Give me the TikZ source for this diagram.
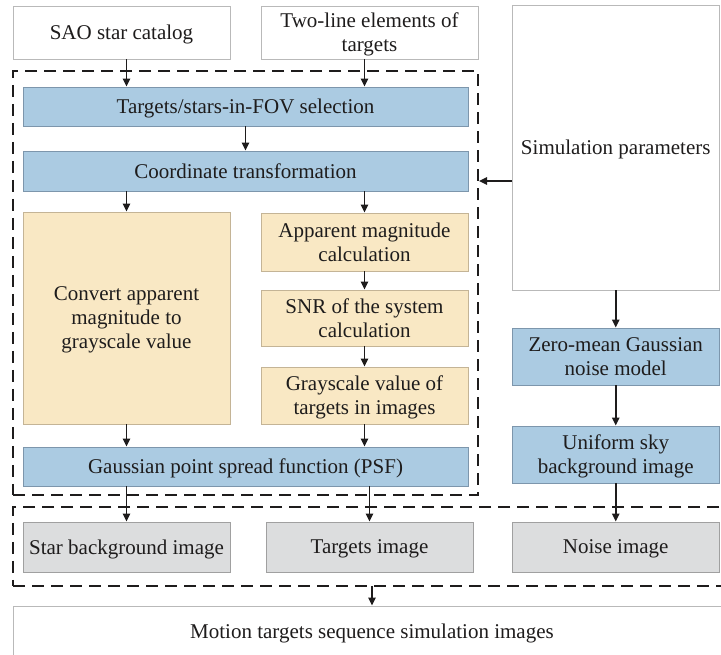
\documentclass[tikz,border=0pt]{standalone}
\usepackage{fontspec}
\setmainfont{Liberation Serif}
\newfontfamily\figserif{Liberation Serif}
\usetikzlibrary{arrows.meta,calc}
\definecolor{bluef}{RGB}{171,203,226}
\definecolor{blued}{RGB}{125,150,172}
\definecolor{yelf}{RGB}{249,232,196}
\definecolor{yeld}{RGB}{196,180,150}
\definecolor{grayf}{RGB}{220,221,222}
\definecolor{grayd}{RGB}{160,160,160}
\definecolor{whited}{RGB}{185,185,185}
\definecolor{ink}{RGB}{30,28,28}
\tikzset{
  figfont/.style={font=\figserif\fontsize{21}{24}\selectfont, text depth=0pt},
  base/.style={draw, inner sep=0pt, align=center, line width=0.9pt,
    figfont, text=ink},
  whitebox/.style={base, draw=whited, fill=white},
  bluebox/.style={base, draw=blued, fill=bluef},
  yelbox/.style={base, draw=yeld, fill=yelf},
  graybox/.style={base, draw=grayd, fill=grayf},
  dashbox/.style={draw=ink, inner sep=0pt, line width=2pt, dash pattern=on 12pt off 7pt},
  arr/.style={-{Triangle[length=8pt,width=7.5pt]}, line width=1.5pt, draw=ink}
}
\newcommand\pbox[7]{\node[#2, minimum width={(#5-#3)*1pt}, minimum height={(#6-#4)*1pt}] (#1) at ({(#3+#5)/2*1pt},{(654-(#4+#6)/2)*1pt}) {#7};}
\begin{document}
\begin{tikzpicture}
\useasboundingbox (0,0) rectangle (721pt,654pt);
\clip (0,0) rectangle (721pt,654pt);
% dashed groups
\pbox{d1}{dashbox}{13}{71}{478}{495}{}
\pbox{d2}{dashbox}{13}{507}{735}{586}{}
% inputs
\pbox{sao}{whitebox}{13}{6}{230}{59}{SAO star catalog}
\pbox{tle}{whitebox}{261}{6}{478}{59}{Two-line elements of\\targets}
\pbox{sim}{whitebox}{512}{5}{719.5}{290}{Simulation parameters}
% main group
\pbox{fov}{bluebox}{23}{87}{468}{126}{Targets/stars-in-FOV selection}
\pbox{coord}{bluebox}{23}{151}{468}{191}{Coordinate transformation}
\pbox{conv}{yelbox}{23}{212}{230}{424}{Convert apparent\\magnitude to\\grayscale value}
\pbox{app}{yelbox}{261}{213}{468}{271}{Apparent magnitude\\calculation}
\pbox{snr}{yelbox}{261}{290}{468}{346}{SNR of the system\\calculation}
\pbox{gray}{yelbox}{261}{367}{468}{424}{Grayscale value of\\targets in images}
\pbox{psf}{bluebox}{23}{447}{468}{486}{Gaussian point spread function (PSF)}
% noise chain
\pbox{zero}{bluebox}{512}{328}{719.5}{385}{Zero-mean Gaussian\\noise model}
\pbox{sky}{bluebox}{512}{426}{719.5}{483}{Uniform sky\\background image}
% images
\pbox{star}{graybox}{23}{522}{230}{572}{Star background image}
\pbox{timg}{graybox}{266}{522}{473}{572}{Targets image}
\pbox{noise}{graybox}{512}{522}{719.5}{572}{Noise image}
\pbox{motion}{whitebox}{13}{606}{740}{657}{}
\node[figfont, text=ink] (motiontxt) at (372pt,{(654-631)*1pt}) {Motion targets sequence simulation images};
% connectors
\draw[arr] (conv.north |- sao.south) -- (conv.north |- fov.north);
\draw[arr] (app.north |- tle.south) -- (app.north |- fov.north);
\draw[arr] (fov.south) -- (coord.north);
\draw[arr] (conv.north |- coord.south) -- (conv.north);
\draw[arr] (app.north |- coord.south) -- (app.north);
\draw[arr] (app.south) -- (snr.north);
\draw[arr] (snr.south) -- (gray.north);
\draw[arr] (conv.south) -- (conv.south |- psf.north);
\draw[arr] (gray.south) -- (gray.south |- psf.north);
\draw[arr] (star.north |- psf.south) -- (star.north);
\draw[arr] (timg.north |- psf.south) -- (timg.north);
\coordinate (simout) at ([yshift=-33.5pt]sim.west);
\draw[arr] (simout) -- (simout -| d1.east);
\draw[arr] (sim.south) -- (zero.north);
\draw[arr] (zero.south) -- (sky.north);
\draw[arr] (sky.south) -- (noise.north);
\coordinate (d2out) at (372pt,{(654-586)*1pt});
\draw[arr] (d2out) -- (d2out |- motion.north);
\end{tikzpicture}
\end{document}
